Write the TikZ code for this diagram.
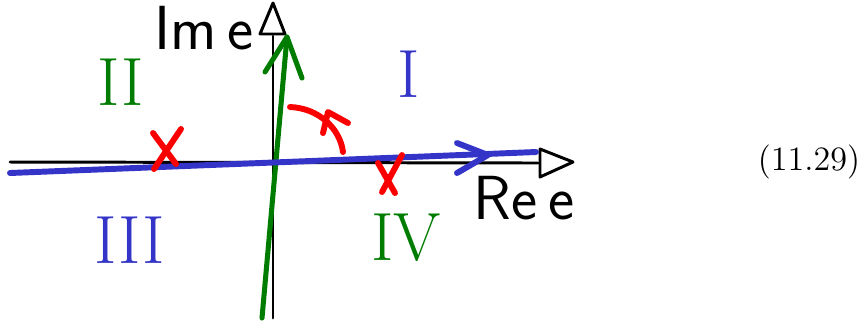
\documentclass[tikz,border=0pt]{standalone}
\usepackage{amsmath}
\usepackage{tikz}
\usetikzlibrary{arrows.meta, calc}
\definecolor{sketchgreen}{RGB}{0,125,0}
\definecolor{sketchblue}{RGB}{52,52,200}
\definecolor{sketchred}{RGB}{250,0,0}
\tikzset{
  axis/.style={black, line width=1pt},
  numeral/.style={inner sep=0pt, font=\fontsize{23}{27}\selectfont},
  handlabel/.style={inner sep=0pt, font=\sffamily\fontsize{21}{25}\selectfont},
}

\begin{document}
\begin{tikzpicture}[x=0.337pt, y=-0.337pt, line join=round, line cap=round]
\useasboundingbox (0,0) rectangle (865,323);
% axes
\coordinate (XL) at (10,162);
\coordinate (XR) at (538,163);
\coordinate (XA) at (540,149);
\coordinate (XB) at (573,162);
\coordinate (XC) at (540,177);
\coordinate (YB) at (273,318);
\coordinate (YT) at (273,36);
\coordinate (YA) at (260,34);
\coordinate (YC) at (273,3);
\coordinate (YD) at (285,34);
\draw[axis] (XL) -- (XR);
\draw[axis] (XA) -- (XB) -- (XC) -- cycle;
\draw[axis] (YB) -- (YT);
\draw[axis] (YA) -- (YC) -- (YD) -- cycle;
% rotated contour
\coordinate (GB) at (262,318);
\coordinate (GT) at (287,37);
\coordinate (GL) at (265,72);
\coordinate (GR) at (302,78);
\draw[sketchgreen, line width=1.7pt] (GB) -- (GT);
\draw[sketchgreen, line width=1.7pt] (GL) -- (GT) -- (GR);
\coordinate (BL) at (10,173);
\coordinate (BR) at (536,152);
\coordinate (BT) at (457,143);
\coordinate (BH) at (488,155);
\coordinate (BU) at (457,173);
\draw[sketchblue, line width=2pt] (BL) -- (BR);
\draw[sketchblue, line width=2pt] (BT) -- (BH) -- (BU);
% poles
\coordinate (P1) at (166,150);
\coordinate (P2) at (390,175);
\draw[sketchred, line width=2pt] ($(P1)+(-13,-17)$) -- ($(P1)+(10,14)$);
\draw[sketchred, line width=2pt] ($(P1)+(15,-21)$) -- ($(P1)+(-12,19)$);
\draw[sketchred, line width=2pt] ($(P2)+(-12,-12)$) -- ($(P2)+(5,18)$);
\draw[sketchred, line width=2pt] ($(P2)+(12,-20)$) -- ($(P2)+(-8,17)$);
% rotation
\coordinate (RA) at (290,107);
\coordinate (RB) at (343,152);
\coordinate (RH) at (328,112);
\draw[sketchred, line width=2pt] (RA) .. controls (318,108) and (340,128) .. (RB);
\draw[sketchred, line width=2pt] (323,133) -- (RH) -- (348,123);
% labels
\node[handlabel] (im) at (204,28) {Im\,e};
\node[handlabel] (re) at (524,198) {Re\,e};
\node[numeral, text=sketchblue] (q1) at (409,74) {I};
\node[numeral, text=sketchgreen] (q2) at (121,82) {II};
\node[numeral, text=sketchblue] (q3) at (130,240) {III};
\node[numeral, text=sketchgreen] (q4) at (406,238) {IV};
\node[inner sep=0pt, font=\fontsize{11.5}{14}\selectfont] (eqno) at (809,162) {(11.29)};
\end{tikzpicture}
\end{document}
